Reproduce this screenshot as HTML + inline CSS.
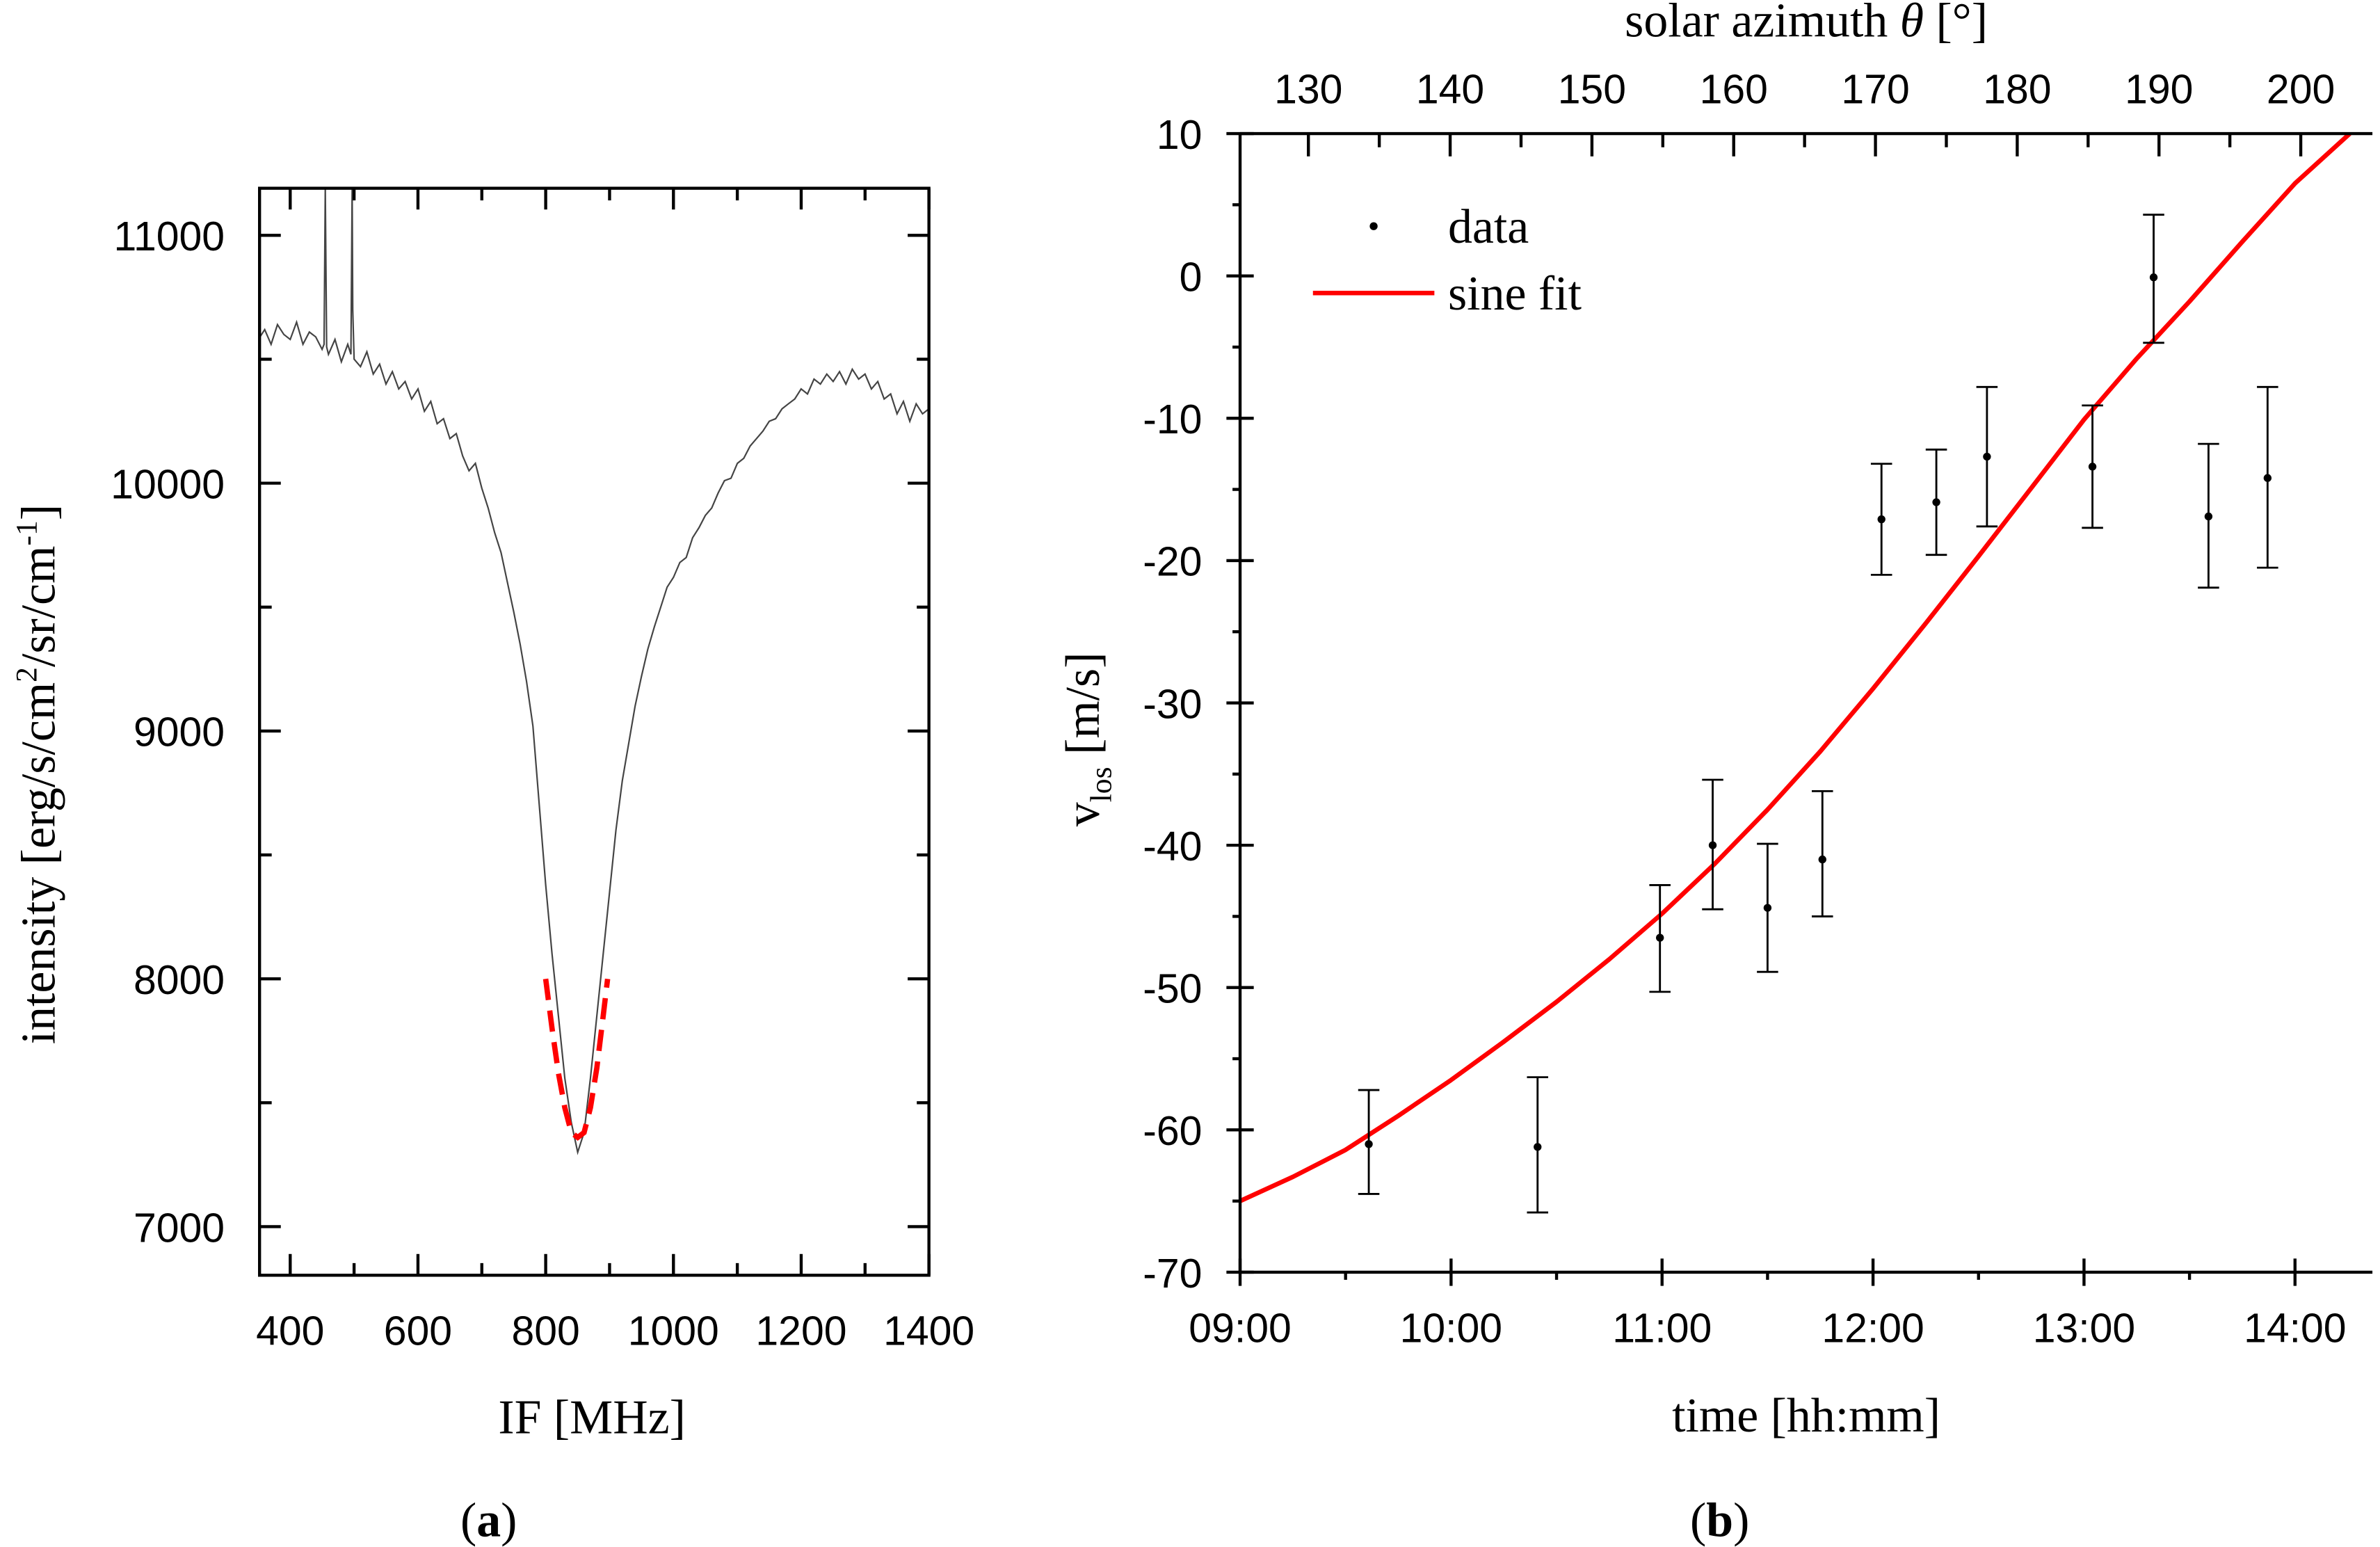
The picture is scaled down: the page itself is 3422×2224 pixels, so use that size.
<!DOCTYPE html>
<html><head><meta charset="utf-8"><style>
html,body{margin:0;padding:0;background:#fff;}
svg{display:block;}
.tk{font-family:"Liberation Sans Narrow","Liberation Sans",sans-serif;font-size:27px;fill:#000;}
.ser{font-family:"Liberation Serif",serif;font-size:32px;fill:#000;}
</style></head><body>
<svg id="fig" width="3422" height="2224" viewBox="0 0 1568 1019" preserveAspectRatio="none" xmlns="http://www.w3.org/2000/svg">
<rect width="1568" height="1019" fill="#fff"/>
<g id="pa"></g>
<g id="pb"></g>
</svg>
<script>
// ---------- Panel (a) data ----------
const specFreq = [350,360,370,380,390,400,410,420,430,440,450,453,455,457,460,470,480,490,495,497,498,500,510,520,530,540,550,560,570,580,590,600,610,620,630,640,650,660,670,680,690,700,710,720,730,740,750,760,770,780,790,800,810,820,830,840,850,860,870,880,890,900,910,920,930,940,950,960,970,980,990,1000,1010,1020,1030,1040,1050,1060,1070,1080,1090,1100,1110,1120,1130,1140,1150,1160,1170,1180,1190,1200,1210,1220,1230,1240,1250,1260,1270,1280,1290,1300,1310,1320,1330,1340,1350,1360,1370,1380,1390,1400];
const specInt = [10580,10620,10560,10640,10600,10580,10650,10560,10610,10590,10540,10560,11190,10550,10520,10580,10490,10560,10520,11190,10700,10500,10470,10530,10440,10480,10400,10450,10380,10410,10340,10380,10290,10330,10240,10260,10180,10200,10110,10050,10080,9980,9900,9800,9720,9600,9480,9350,9200,9020,8700,8380,8100,7850,7600,7420,7300,7380,7600,7850,8100,8350,8600,8800,8950,9100,9220,9330,9420,9500,9580,9620,9680,9700,9780,9820,9870,9900,9960,10010,10020,10080,10100,10150,10180,10210,10250,10260,10300,10320,10340,10380,10360,10420,10400,10440,10410,10450,10400,10460,10420,10440,10380,10410,10340,10360,10280,10330,10250,10320,10280,10300];
const fitFreq = [800,810,820,830,840,850,860,870,880,890,897];
const fitInt  = [8000,7800,7620,7480,7380,7360,7380,7480,7640,7850,8000];
const aXTicks = [400,600,800,1000,1200,1400];
const aYTicks = [7000,8000,9000,10000,11000];

// ---------- Panel (b) data ----------
const tHours = [9.61,10.41,10.99,11.24,11.50,11.76,12.04,12.30,12.54,13.04,13.33,13.59,13.87];
const vlos   = [-61.0,-61.2,-46.5,-40.0,-44.4,-41.0,-17.1,-15.9,-12.7,-13.4,-0.1,-16.9,-14.2];
const errUp  = [3.8,4.9,3.7,4.6,4.5,4.8,3.9,3.7,4.9,4.3,4.4,5.1,6.4];
const errDn  = [3.5,4.6,3.8,4.5,4.5,4.0,3.9,3.7,4.9,4.3,4.6,5.0,6.3];
const fitT   = [9.0,9.25,9.5,9.75,10.0,10.25,10.5,10.75,11.0,11.25,11.5,11.75,12.0,12.25,12.5,12.75,13.0,13.25,13.5,13.75,14.0,14.26];
const fitV   = [-65,-63.3,-61.4,-59.0,-56.5,-53.8,-51.0,-48.0,-44.8,-41.3,-37.5,-33.4,-29.0,-24.4,-19.7,-14.9,-10.1,-5.8,-1.8,2.4,6.5,10];
const bXTicks = [9,10,11,12,13,14];
const bXLabels = ["09:00","10:00","11:00","12:00","13:00","14:00"];
const bYTicks = [10,0,-10,-20,-30,-40,-50,-60,-70];
const azTicks = [130,140,150,160,170,180,190,200];

const NS="http://www.w3.org/2000/svg";
function mk(tag,attrs,parent,name){const e=document.createElementNS(NS,tag);for(const k in attrs)e.setAttribute(k,attrs[k]);


parent.appendChild(e);return e;}
function txt(s,x,y,cls,anchor,parent,name){const t=mk('text',{x:x,y:y,class:cls,'text-anchor':anchor},parent,name);t.textContent=s;return t;}

// ===== Panel a =====
const pa=document.getElementById('pa');
const aL=171,aR=612,aT=124,aB=840;
const ax=f=>aL+(f-352)*(aR-aL)/(1400-352);
const ay=v=>aB-(v-6804)*(aB-aT)/(11190-6804);
mk('clipPath',{id:'ca'},pa,'clip-a');
const ra=document.createElementNS(NS,'rect');ra.setAttribute('x',aL);ra.setAttribute('y',aT);ra.setAttribute('width',aR-aL);ra.setAttribute('height',aB-aT);document.getElementById('ca').appendChild(ra);
let d=specFreq.map((f,i)=>(i?'L':'M')+ax(f).toFixed(1)+','+ay(specInt[i]).toFixed(1)).join('');
mk('path',{d:d,fill:'none',stroke:'#444','stroke-width':1,'clip-path':'url(#ca)'},pa,'spectrum-line');
d=fitFreq.map((f,i)=>(i?'L':'M')+ax(f).toFixed(1)+','+ay(fitInt[i]).toFixed(1)).join('');
mk('path',{d:d,fill:'none',stroke:'#f00','stroke-width':3.5,'stroke-dasharray':'14,7'},pa,'fit-dashed-line');
mk('rect',{x:aL,y:aT,width:aR-aL,height:aB-aT,fill:'none',stroke:'#000','stroke-width':2},pa,'plot-frame-a');
for(let f=400;f<=1400;f+=100){const maj=f%200===0;const L=maj?14:8;
 mk('line',{x1:ax(f),x2:ax(f),y1:aB,y2:aB-L,stroke:'#000','stroke-width':2},pa,'x-tick-a');
 mk('line',{x1:ax(f),x2:ax(f),y1:aT,y2:aT+L,stroke:'#000','stroke-width':2},pa,'x-tick-top-a');}
aXTicks.forEach(f=>txt(String(f),ax(f),886,'tk','middle',pa,'x-tick-label-a'));
for(let v=7000;v<=11000;v+=500){const maj=v%1000===0;const L=maj?14:8;
 mk('line',{x1:aL,x2:aL+L,y1:ay(v),y2:ay(v),stroke:'#000','stroke-width':2},pa,'y-tick-a');
 mk('line',{x1:aR,x2:aR-L,y1:ay(v),y2:ay(v),stroke:'#000','stroke-width':2},pa,'y-tick-right-a');}
aYTicks.forEach(v=>txt(String(v),148,ay(v)+10,'tk','end',pa,'y-tick-label-a'));
txt('IF [MHz]',390,944,'ser','middle',pa,'x-axis-title-a');
const yt=txt('',0,0,'ser','middle',pa,'y-axis-title-a');
yt.setAttribute('transform','translate(36,510) rotate(-90)');
yt.innerHTML='intensity [erg/s/cm<tspan dy="-12" font-size="20">2</tspan><tspan dy="12">/sr/cm</tspan><tspan dy="-12" font-size="20">-1</tspan><tspan dy="12">]</tspan>';
const la=txt('',322,1012,'ser','middle',pa,'panel-label-a');la.innerHTML='(<tspan font-weight="bold">a</tspan>)';

// ===== Panel b =====
const pb=document.getElementById('pb');
const bL=817,bR=1563,bT=88,bB=838;
const bx=t=>bL+(t-9)*139;
const by=v=>bB-(v+70)*(bB-bT)/80;
const az=a=>862+(a-130)*9.34;
mk('clipPath',{id:'cb'},pb,'clip-b');
const cr=document.createElementNS(NS,'rect');cr.setAttribute('x',bL);cr.setAttribute('y',bT);cr.setAttribute('width',bR-bL);cr.setAttribute('height',bB-bT);document.getElementById('cb').appendChild(cr);
d=fitT.map((t,i)=>(i?'L':'M')+bx(t).toFixed(1)+','+by(fitV[i]).toFixed(1)).join('');
mk('path',{d:d,fill:'none',stroke:'#f00','stroke-width':3,'stroke-linejoin':'round','clip-path':'url(#cb)'},pb,'sine-fit-line');
tHours.forEach((t,i)=>{const x=bx(t),y1=by(vlos[i]+errUp[i]),y2=by(vlos[i]-errDn[i]);
 mk('line',{x1:x,x2:x,y1:y1,y2:y2,stroke:'#000','stroke-width':1.3},pb,'error-bar');
 mk('line',{x1:x-7,x2:x+7,y1:y1,y2:y1,stroke:'#000','stroke-width':1.3},pb,'error-cap-top');
 mk('line',{x1:x-7,x2:x+7,y1:y2,y2:y2,stroke:'#000','stroke-width':1.3},pb,'error-cap-bottom');
 mk('circle',{cx:x,cy:by(vlos[i]),r:2.6,fill:'#000'},pb,'data-point');});
mk('path',{d:`M${bL},${bT}H${bR}M${bL},${bT}V${bB}H${bR}`,fill:'none',stroke:'#000','stroke-width':2},pb,'plot-frame-b');
for(let t=9;t<=14.3;t+=0.5){const maj=Math.abs(t-Math.round(t))<1e-6;
 mk('line',{x1:bx(t),x2:bx(t),y1:bB-(maj?9:0),y2:bB+(maj?9:5),stroke:'#000','stroke-width':2},pb,'x-tick-b');}
bXTicks.forEach((t,i)=>txt(bXLabels[i],bx(t),884,'tk','middle',pb,'x-tick-label-b'));
for(let v=10;v>=-70;v-=5){const maj=v%10===0;
 mk('line',{x1:bL-(maj?9:5),x2:bL+(maj?9:0),y1:by(v),y2:by(v),stroke:'#000','stroke-width':2},pb,'y-tick-b');}
bYTicks.forEach(v=>txt(String(v),792,by(v)+10,'tk','end',pb,'y-tick-label-b'));
for(let a=130;a<=200;a+=5){const maj=a%10===0;
 mk('line',{x1:az(a),x2:az(a),y1:bT,y2:bT+(maj?15:9),stroke:'#000','stroke-width':2},pb,'top-tick-b');}
azTicks.forEach(a=>txt(String(a),az(a),68,'tk','middle',pb,'top-tick-label-b'));
const tt=txt('',1190,24,'ser','middle',pb,'top-axis-title');tt.innerHTML='solar azimuth <tspan font-style="italic">θ</tspan> [°]';
txt('time [hh:mm]',1190,943,'ser','middle',pb,'x-axis-title-b');
const vy=txt('',0,0,'ser','middle',pb,'y-axis-title-b');vy.setAttribute('transform','translate(724,487) rotate(-90)');
vy.innerHTML='v<tspan dy="8" font-size="20">los</tspan><tspan dy="-8"> [m/s]</tspan>';
mk('circle',{cx:905,cy:149,r:2.6,fill:'#000'},pb,'legend-data-marker');
txt('data',954,160,'ser','start',pb,'legend-data-label');
mk('line',{x1:865,x2:945,y1:193,y2:193,stroke:'#f00','stroke-width':3},pb,'legend-fit-line');
txt('sine fit',954,204,'ser','start',pb,'legend-fit-label');
const lb=txt('',1133,1012,'ser','middle',pb,'panel-label-b');lb.innerHTML='(<tspan font-weight="bold">b</tspan>)';
</script>
</body></html>
